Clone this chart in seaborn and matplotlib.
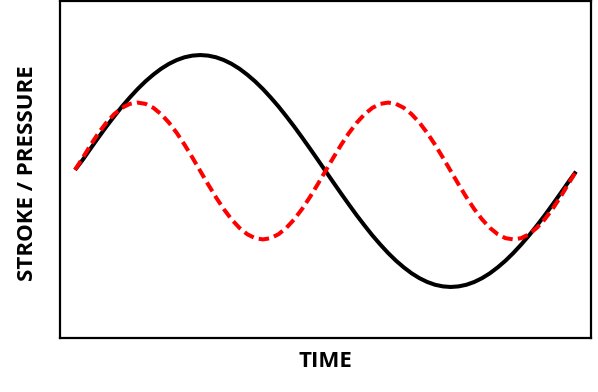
import matplotlib
matplotlib.use("Agg")
import matplotlib.pyplot as plt
import seaborn as sns
import pandas as pd

# Time samples (fraction of the plotted span)
time = [i / 64 for i in range(65)]

# Stroke (black solid) (centre = 0, peak = 1)
stroke = [0.010, 0.098, 0.195, 0.290, 0.383, 0.471, 0.556, 0.634, 0.707, 0.773, 0.831, 0.882, 0.924, 0.957, 0.981, 0.995, 1.000,
          0.995, 0.981, 0.957, 0.924, 0.882, 0.831, 0.773, 0.707, 0.634, 0.556, 0.471, 0.383, 0.290, 0.195, 0.098, 0.000,
          -0.098, -0.195, -0.290, -0.383, -0.471, -0.556, -0.634, -0.707, -0.773, -0.831, -0.882, -0.924, -0.957, -0.981, -0.995, -1.000,
          -0.995, -0.981, -0.957, -0.924, -0.882, -0.831, -0.773, -0.707, -0.634, -0.556, -0.471, -0.383, -0.290, -0.195, -0.098, -0.005]

# Pressure (red dashed)
pressure = [0.010, 0.115, 0.226, 0.328, 0.417, 0.490, 0.545, 0.579, 0.590, 0.579, 0.545, 0.490, 0.417, 0.328, 0.226, 0.115, 0.000,
            -0.115, -0.226, -0.328, -0.417, -0.490, -0.545, -0.579, -0.590, -0.579, -0.545, -0.490, -0.417, -0.328, -0.226, -0.115, 0.000,
            0.115, 0.226, 0.328, 0.417, 0.490, 0.545, 0.579, 0.590, 0.579, 0.545, 0.490, 0.417, 0.328, 0.226, 0.115, 0.000,
            -0.115, -0.226, -0.328, -0.417, -0.490, -0.545, -0.579, -0.590, -0.579, -0.545, -0.490, -0.417, -0.328, -0.226, -0.115, -0.005]

x_label = "TIME"
y_label = "STROKE / PRESSURE"

df = pd.DataFrame({"time": time, "stroke": stroke, "pressure": pressure})

sns.set_theme(style="white")
plt.rcParams["font.family"] = ["Open Sans", "DejaVu Sans"]
plt.rcParams["path.simplify"] = False

fig = plt.figure(figsize=(5.98, 3.92), dpi=100)
ax = fig.add_axes([60 / 598, (392 - 338) / 392, 531 / 598, 337 / 392])

sns.lineplot(data=df, x="time", y="stroke", ax=ax, color="black", linewidth=2.9,
             estimator=None, sort=False, solid_capstyle="butt")
sns.lineplot(data=df, x="time", y="pressure", ax=ax, color="#ff0000", linewidth=2.9,
             estimator=None, sort=False)
ax.lines[1].set_dashes((2.6, 1.3))
ax.lines[1].set_dash_capstyle("butt")

ax.set_xlim(-0.03, 1.03)
ax.set_ylim(-1.44, 1.466)
ax.set_xticks([])
ax.set_yticks([])

for s in ax.spines.values():
    s.set_color("black")
    s.set_linewidth(1.6)

ax.set_xlabel(x_label, fontsize=16, fontweight="bold", color="black")
ax.set_ylabel(y_label, fontsize=16, fontweight="bold", color="black")
ax.xaxis.set_label_coords(0.5, -0.039)
ax.yaxis.set_label_coords(-0.041, 0.488)

fig.savefig("out.png", dpi=100)
